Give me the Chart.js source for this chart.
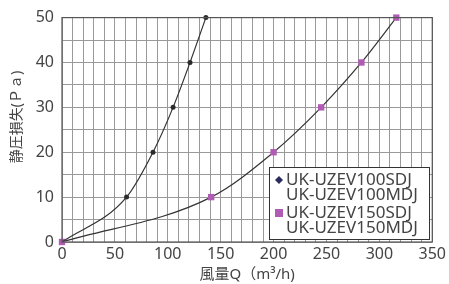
<!DOCTYPE html>
<html>
<head>
<meta charset="utf-8">
<script src="https://cdn.jsdelivr.net/npm/chart.js@4/dist/chart.umd.min.js"></script>
<style>
  html, body { margin: 0; padding: 0; background: #fff; }
  #wrap { width: 449px; height: 284px; }
</style>
</head>
<body>
<div id="wrap"><canvas id="chart" width="449" height="284"></canvas></div>
<script>
// data
const pressure = [0, 10, 20, 30, 40, 50];
const flow100 = [0, 61, 86, 105, 121, 136];
const flow150 = [0, 141, 200, 245, 283, 316];
const legendLabels = [
  ["UK-UZEV100SDJ", "UK-UZEV100MDJ"],
  ["UK-UZEV150SDJ", "UK-UZEV150MDJ"]
];
const xTitle = "風量Q（m³/h)";
const yTitle = "静圧損失(Ｐａ)";

const toPoints = (xs) => xs.map((x, i) => ({ x: x, y: pressure[i] }));

const textColor = "#444";
const font = "'Noto Sans', 'Noto Sans CJK JP', sans-serif";

// frame, y title and legend box
const framePlugin = {
  id: "frame",
  afterDraw(chart) {
    const { ctx, chartArea: a } = chart;
    ctx.save();
    ctx.strokeStyle = "#555";
    ctx.lineWidth = 1.2;
    ctx.strokeRect(a.left, a.top, a.right - a.left, a.bottom - a.top);

    // y title
    ctx.save();
    ctx.translate(17, 117);
    ctx.rotate(-Math.PI / 2);
    ctx.font = "14px " + font;
    ctx.fillStyle = textColor;
    ctx.textAlign = "center";
    ctx.textBaseline = "middle";
    ctx.fillText(yTitle, 0, 0);
    ctx.restore();

    // legend
    const bx = 269, by = 167, bw = 160, bh = 72;
    ctx.fillStyle = "#fff";
    ctx.fillRect(bx, by, bw, bh);
    ctx.strokeStyle = "#333";
    ctx.lineWidth = 1;
    ctx.strokeRect(bx + 0.5, by + 0.5, bw, bh);
    ctx.font = "17px " + font;
    ctx.textBaseline = "middle";
    const rows = [180, 213];
    legendLabels.forEach((lines, i) => {
      const y0 = rows[i];
      ctx.fillStyle = textColor;
      lines.forEach((t, j) => ctx.fillText(t, 286, y0 + j * 15));
      if (i === 0) {
        ctx.fillStyle = "#2b2b5e";
        ctx.beginPath();
        ctx.moveTo(279, y0 - 4);
        ctx.lineTo(283, y0);
        ctx.lineTo(279, y0 + 4);
        ctx.lineTo(275, y0);
        ctx.closePath();
        ctx.fill();
      } else {
        ctx.fillStyle = "#b05cb4";
        ctx.fillRect(275, y0 - 4, 8, 8);
      }
    });
    ctx.restore();
  }
};

new Chart(document.getElementById("chart"), {
  type: "line",
  data: {
    datasets: [
      {
        data: toPoints(flow100),
        borderColor: "#333",
        borderWidth: 1.2,
        backgroundColor: "#2b2b2b",
        pointStyle: "circle",
        pointRadius: [0, 2.5, 2.5, 2.5, 2.5, 2.5],
        pointBorderWidth: 0,
        cubicInterpolationMode: "monotone",
        clip: false
      },
      {
        data: toPoints(flow150),
        borderColor: "#333",
        borderWidth: 1.2,
        backgroundColor: "#b05cb4",
        pointStyle: "rect",
        pointRadius: 4.5,
        pointBorderWidth: 0,
        cubicInterpolationMode: "monotone",
        clip: false
      }
    ]
  },
  options: {
    responsive: false,
    animation: false,
    events: [],
    layout: { padding: { top: 14, right: 16, left: 0, bottom: 0 } },
    plugins: { legend: { display: false }, tooltip: { enabled: false } },
    scales: {
      x: {
        type: "linear",
        min: 0,
        max: 350,
        grid: { color: "#9a9a9a", lineWidth: 1, drawTicks: false },
        border: { display: false },
        ticks: {
          stepSize: 10,
          autoSkip: false,
          maxRotation: 0,
          padding: 3,
          color: textColor,
          font: { family: font, size: 16 },
          callback: (v) => (v % 50 === 0 ? v : "")
        },
        title: {
          display: true,
          text: xTitle,
          color: textColor,
          font: { family: font, size: 15 },
          padding: { top: -3, bottom: 0 }
        },
        afterFit: (s) => { s.height = 42; }
      },
      y: {
        min: 0,
        max: 50,
        grid: { color: "#9a9a9a", lineWidth: 1, drawTicks: false },
        border: { display: false },
        ticks: {
          stepSize: 5,
          autoSkip: false,
          padding: 8,
          color: textColor,
          font: { family: font, size: 16 },
          callback: (v) => (v % 10 === 0 ? v : "")
        },
        afterFit: (s) => { s.width = 62; }
      }
    }
  },
  plugins: [framePlugin]
});
</script>
</body>
</html>
